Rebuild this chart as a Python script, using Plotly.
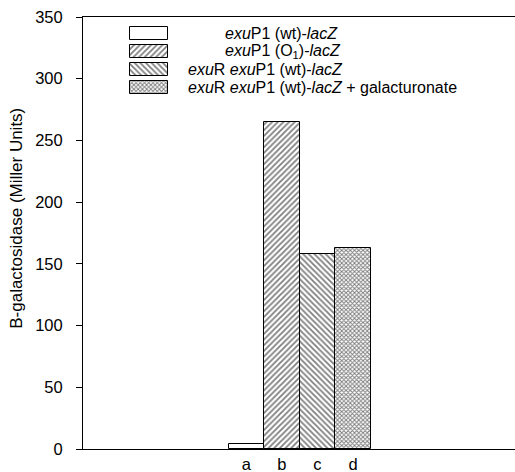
import plotly.graph_objects as go

positions = [1, 2, 3, 4]
values = [4, 265, 158, 163]
tick_labels = ["a", "b", "c", "d"]
y_ticks = [0, 50, 100, 150, 200, 250, 300, 350]
series_names = [
    "<i>exu</i>P1 (wt)-<i>lacZ</i>",
    "<i>exu</i>P1 (O<sub>1</sub>)-<i>lacZ</i>",
    "<i>exu</i>R <i>exu</i>P1 (wt)-<i>lacZ</i>",
    "<i>exu</i>R <i>exu</i>P1 (wt)-<i>lacZ</i> + galacturonate",
]
y_title = "B-galactosidase (Miller Units)"

patterns = ["", "/", "\\", "x"]
pattern_sizes = [4, 4, 4, 3]
pattern_solidity = [0.45, 0.45, 0.45, 0.55]

# legend layout (pixel units on a helper overlay axis)
leg_key_left, leg_key_w, leg_key_h = 130, 38, 13
leg_row0, leg_row_step = 33, 18
leg_text_x = [223, 223, 186, 186]

def marker(i):
    return dict(color="white", line=dict(color="black", width=1),
                pattern=dict(shape=patterns[i], size=pattern_sizes[i],
                             solidity=pattern_solidity[i],
                             fgcolor="black", bgcolor="white"))

fig = go.Figure()
for i in range(4):
    fig.add_trace(go.Bar(x=[positions[i]], y=[values[i]], name=series_names[i],
                         width=1, marker=marker(i), showlegend=False))

# legend keys
for i in range(4):
    fig.add_trace(go.Bar(y=[leg_row0 + i * leg_row_step], x=[leg_key_w], base=[leg_key_left],
                         orientation="h", width=leg_key_h, marker=marker(i),
                         xaxis="x2", yaxis="y2", showlegend=False, hoverinfo="skip"))

font = "Liberation Sans, Arial, Helvetica, sans-serif"
annotations = []
for i in range(4):
    annotations.append(dict(x=leg_text_x[i], y=leg_row0 + i * leg_row_step, xref="x2", yref="y2",
                            text=series_names[i], showarrow=False, xanchor="left",
                            yanchor="middle", font=dict(size=16)))
annotations.append(dict(x=-0.153, y=0.535, xref="paper", yref="paper", text=y_title,
                        textangle=-90, showarrow=False, xanchor="center", yanchor="middle",
                        font=dict(size=17)))
fig.update_layout(
    width=515, height=472,
    margin=dict(l=83, r=0, t=17, b=23),
    plot_bgcolor="white", paper_bgcolor="white",
    font=dict(family=font, size=16, color="black"),
    barmode="overlay", bargap=0,
    showlegend=False,
    annotations=annotations,
    xaxis=dict(range=[-3.6, 8.56], tickvals=positions, ticktext=tick_labels,
               ticks="", showline=True, linecolor="black", linewidth=1, mirror=True,
               showgrid=False, zeroline=False, tickfont=dict(size=16.5)),
    yaxis=dict(range=[0, 350], tickvals=y_ticks,
               ticks="outside", ticklen=6, tickcolor="black", showline=True,
               linecolor="black", linewidth=1, showgrid=False, zeroline=False,
               ticklabelstandoff=10, tickfont=dict(size=16.5)),
    xaxis2=dict(overlaying="x", anchor="y2", range=[83, 515], visible=False, fixedrange=True),
    yaxis2=dict(overlaying="y", anchor="x2", range=[449, 17], visible=False, fixedrange=True),
)
fig.write_html("out.html")
